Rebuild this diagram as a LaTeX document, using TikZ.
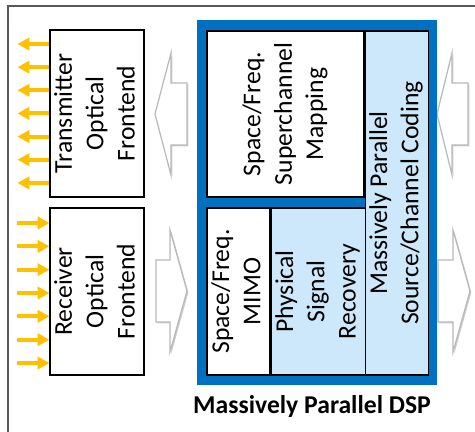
\documentclass[tikz,border=0pt]{standalone}
\usepackage{fontspec}
\setmainfont{Carlito}
\usetikzlibrary{positioning,arrows.meta,shadows}
\definecolor{dspblue}{HTML}{0070C0}
\definecolor{cellblue}{HTML}{CCE8FA}
\definecolor{optyellow}{HTML}{FFC000}
\definecolor{framegray}{HTML}{595959}
\newcommand{\vtext}[1]% rotated label, lines split by \\
{\rotatebox{90}{\begin{tabular}{@{}c@{}}#1\end{tabular}}}
\newcommand{\fatarrow}[3]% tip, head back, tail (x offsets from tip)
{(#1) -- +(#2,1.22) -- +(#2,0.62) -- +(#3,0.62) -- +(#3,-0.62) -- +(#2,-0.62) -- +(#2,-1.22) -- cycle
}
\tikzset{
  optbox/.style={draw, line width=0.6pt, fill=white, inner sep=0pt,
    font=\fontsize{14.6}{17.8}\selectfont},
  cell/.style={optbox},
  bluecell/.style={optbox, fill=cellblue},
  dspframe/.style={fill=dspblue, inner sep=0pt, minimum width=4.8cm, minimum height=7.3cm},
  optarrow/.style={optyellow, line width=2.3pt, -{Triangle[length=6.8pt, width=7pt]}},
  fatarrow/.style={draw=gray!55, line width=0.7pt, fill=white,
    drop shadow={opacity=0.4, shadow xshift=0.8pt, shadow yshift=-0.8pt}}
}

\begin{document}
\begin{tikzpicture}
	\useasboundingbox (0,0) rectangle (9.5,-8.64);
	\draw[framegray, line width=0.9pt] (0.16,-8.64) |- (9.5,-0.12);
	% frontends
	\node[optbox, minimum width=1.88cm, minimum height=3.34cm] (tx) at (1.94,-2.27) {\vtext{Transmitter\\Optical\\Frontend}};
	\node[optbox, minimum width=1.88cm, minimum height=3.34cm] (rx) at (1.94,-5.83) {\vtext{Receiver\\Optical\\Frontend}};
	\foreach \k in {0,...,6}{
		\coordinate (txout\k) at (tx.west |- 0,{-0.88-0.463*\k});
		\draw[optarrow] (txout\k) -- ([xshift=-0.64cm]txout\k);
		\coordinate (rxin\k) at (rx.west |- 0,{-4.46-0.4667*\k});
		\draw[optarrow] ([xshift=-0.64cm]rxin\k) -- (rxin\k);
	}
	% big arrows
	\draw[fatarrow] \fatarrow{3.10,-2.28}{0.32}{0.64};
	\draw[fatarrow] \fatarrow{8.74,-2.28}{0.30}{0.62};
	\draw[fatarrow] \fatarrow{3.74,-5.82}{-0.34}{-0.62};
	\draw[fatarrow] \fatarrow{9.40,-5.82}{-0.34}{-0.64};
	% dsp
	\node[dspframe] (dsp) at (6.34,-4.05) {};
	\node[cell, minimum width=3.14cm, minimum height=3.32cm] (map) at (5.71,-2.28) {\vtext{Space/Freq.\\Superchannel\\Mapping}};
	\node[bluecell, minimum width=1.26cm, minimum height=6.88cm, anchor=north west] (coding) at (map.north east) {\vtext{Massively Parallel\\Source/Channel Coding}};
	\node[cell, minimum width=1.26cm, minimum height=3.34cm] (mimo) at (4.77,-5.83) {\vtext{Space/Freq.\\MIMO}};
	\node[bluecell, minimum width=1.88cm, minimum height=3.34cm, right=0pt of mimo] (rec) {\vtext{Physical\\Signal\\Recovery}};
	\node[font=\fontsize{14.6}{17}\selectfont\bfseries, below=0.08cm of dsp, xshift=-0.1cm] (title) {Massively Parallel DSP};
\end{tikzpicture}
\end{document}
